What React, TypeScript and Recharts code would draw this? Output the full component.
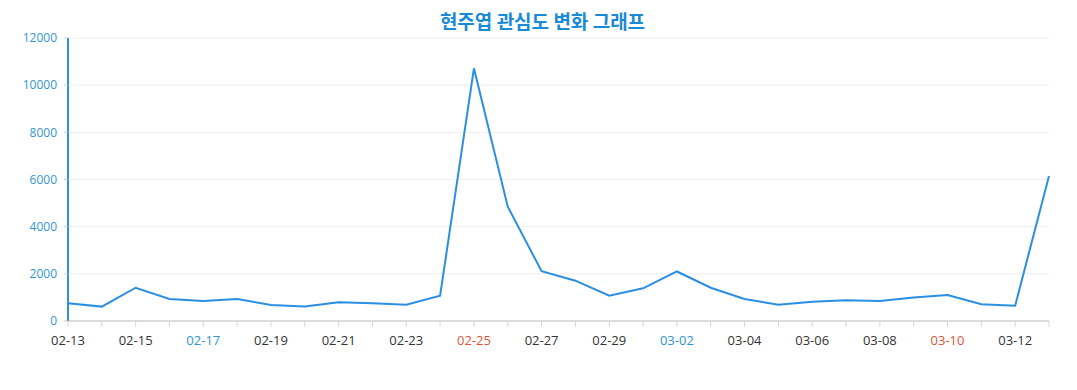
import React from "react";
import {
  LineChart,
  Line,
  XAxis,
  YAxis,
  CartesianGrid
} from "recharts";

const dates = [
  "02-13", "02-14", "02-15", "02-16", "02-17", "02-18", "02-19", "02-20",
  "02-21", "02-22", "02-23", "02-24", "02-25", "02-26", "02-27", "02-28",
  "02-29", "03-01", "03-02", "03-03", "03-04", "03-05", "03-06", "03-07",
  "03-08", "03-09", "03-10", "03-11", "03-12", "03-13"
];

const interest = [
  750, 610, 1410, 930, 850, 930, 680, 610,
  790, 750, 690, 1070, 10715, 4850, 2110, 1710,
  1070, 1385, 2100, 1410, 930, 690, 820, 880,
  850, 1000, 1100, 710, 650, 6150
];

const yTicks = [0, 2000, 4000, 6000, 8000, 10000, 12000];

const blueDates = ["02-17", "03-02"];
const redDates = ["02-25", "03-10"];

const data = dates.map((d, i) => ({ date: d, value: interest[i] }));

function DateTick(props: any) {
  const { x, y, payload, index } = props;
  if (index % 2 !== 0) return null;
  const label = payload.value as string;
  let fill = "#333";
  if (blueDates.includes(label)) fill = "#2f96d4";
  if (redDates.includes(label)) fill = "#e0533a";
  return (
    <text
      x={x}
      y={y + 16}
      textAnchor="middle"
      fill={fill}
      fontSize={13}
      fontFamily="'Open Sans', 'Noto Sans', sans-serif"
    >
      {label}
    </text>
  );
}

export default function App() {
  return (
    <div
      style={{
        position: "absolute",
        left: 0,
        top: 0,
        width: 1077,
        height: 390,
        background: "#fff",
        fontFamily: "'Open Sans', 'Noto Sans CJK KR', sans-serif"
      }}
    >
      <div
        style={{
          position: "absolute",
          top: 7,
          left: 0,
          width: 1085,
          textAlign: "center",
          fontSize: 19,
          fontWeight: 700,
          color: "#1a8ad8",
          fontFamily: "'Noto Sans CJK KR', 'Noto Sans', sans-serif"
        }}
      >
        현주엽 관심도 변화 그래프
      </div>
      <LineChart
        width={1077}
        height={390}
        data={data}
        margin={{ top: 38, right: 28, left: 0, bottom: 39 }}
      >
        <CartesianGrid vertical={false} stroke="#eeeeee" />
        <XAxis
          dataKey="date"
          interval={0}
          height={30}
          tick={<DateTick />}
          tickLine={{ stroke: "#d8d8d8" }}
          axisLine={{ stroke: "#dcdcdc", strokeWidth: 2 }}
          tickSize={6}
        />
        <YAxis
          width={68}
          domain={[0, 12000]}
          ticks={yTicks}
          interval={0}
          tick={{ fill: "#2f96d4", fontSize: 12, fontFamily: "'Open Sans', sans-serif" }}
          tickLine={{ stroke: "#cccccc" }}
          tickSize={4}
          tickMargin={7}
          axisLine={{ stroke: "#2f8fe0", strokeWidth: 2 }}
        />
        <Line
          type="linear"
          dataKey="value"
          stroke="#2a8fe2"
          strokeWidth={2}
          dot={false}
          isAnimationActive={false}
        />
      </LineChart>
    </div>
  );
}
